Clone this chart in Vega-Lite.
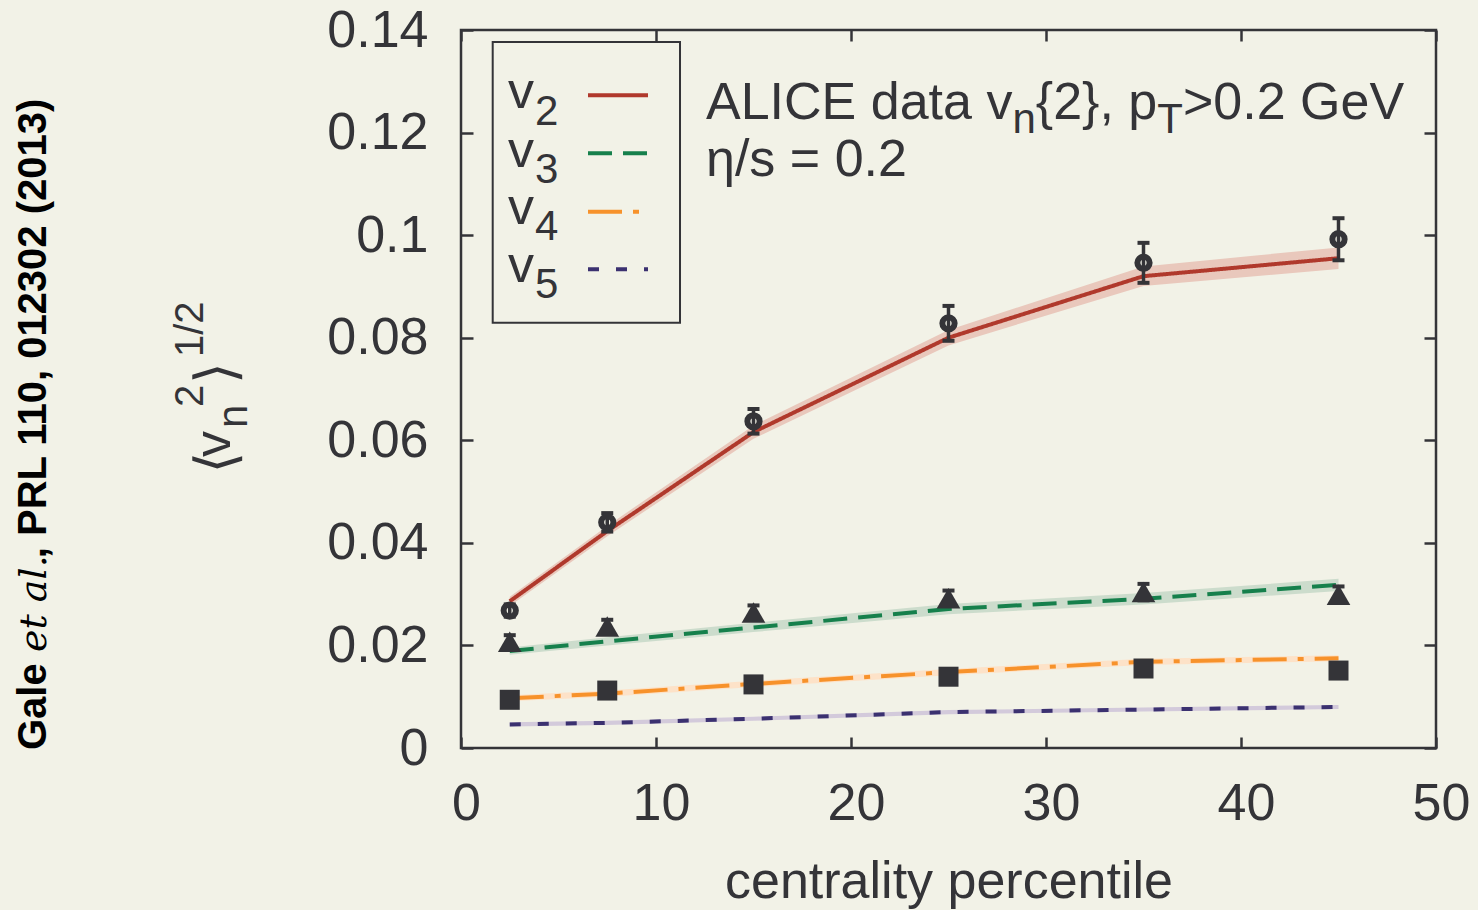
{
  "$schema": "https://vega.github.io/schema/vega-lite/v6.json",
  "width": 975,
  "height": 718,
  "autosize": {"type": "none"},
  "padding": {"left": 461, "top": 30, "right": 42, "bottom": 162},
  "background": "#f2f2e7",
  "config": {
    "view": {"stroke": "#343438", "strokeWidth": 2.5},
    "font": "Liberation Sans",
    "text": {"font": "Liberation Sans", "color": "#343438", "align": "left", "baseline": "alphabetic"}
  },
  "datasets": {
    "model": [
      {"series": "v2", "x": 2.5, "y": 0.0286, "lo": 0.0277, "hi": 0.0295},
      {"series": "v2", "x": 7.5, "y": 0.0423, "lo": 0.0413, "hi": 0.0433},
      {"series": "v2", "x": 15, "y": 0.0616, "lo": 0.0603, "hi": 0.0629},
      {"series": "v2", "x": 25, "y": 0.0800, "lo": 0.0785, "hi": 0.0815},
      {"series": "v2", "x": 35, "y": 0.0920, "lo": 0.0901, "hi": 0.0939},
      {"series": "v2", "x": 45, "y": 0.0955, "lo": 0.0934, "hi": 0.0976},
      {"series": "v3", "x": 2.5, "y": 0.0189, "lo": 0.0182, "hi": 0.0196},
      {"series": "v3", "x": 7.5, "y": 0.0208, "lo": 0.0200, "hi": 0.0216},
      {"series": "v3", "x": 15, "y": 0.0235, "lo": 0.0226, "hi": 0.0244},
      {"series": "v3", "x": 25, "y": 0.0271, "lo": 0.0261, "hi": 0.0281},
      {"series": "v3", "x": 35, "y": 0.0291, "lo": 0.0280, "hi": 0.0302},
      {"series": "v3", "x": 45, "y": 0.0318, "lo": 0.0306, "hi": 0.0330},
      {"series": "v4", "x": 2.5, "y": 0.0097, "lo": 0.0091, "hi": 0.0103},
      {"series": "v4", "x": 7.5, "y": 0.0106, "lo": 0.0100, "hi": 0.0112},
      {"series": "v4", "x": 15, "y": 0.0125, "lo": 0.0119, "hi": 0.0131},
      {"series": "v4", "x": 25, "y": 0.0148, "lo": 0.0142, "hi": 0.0154},
      {"series": "v4", "x": 35, "y": 0.0168, "lo": 0.0162, "hi": 0.0174},
      {"series": "v4", "x": 45, "y": 0.0175, "lo": 0.0169, "hi": 0.0181},
      {"series": "v5", "x": 2.5, "y": 0.0046, "lo": 0.0042, "hi": 0.0050},
      {"series": "v5", "x": 7.5, "y": 0.0049, "lo": 0.0045, "hi": 0.0053},
      {"series": "v5", "x": 15, "y": 0.0057, "lo": 0.0053, "hi": 0.0061},
      {"series": "v5", "x": 25, "y": 0.0070, "lo": 0.0066, "hi": 0.0074},
      {"series": "v5", "x": 35, "y": 0.0075, "lo": 0.0071, "hi": 0.0079},
      {"series": "v5", "x": 45, "y": 0.0080, "lo": 0.0076, "hi": 0.0084}
    ],
    "alice": [
      {"series": "v2", "x": 2.5, "y": 0.0268, "lo": 0.0256, "hi": 0.0280},
      {"series": "v2", "x": 7.5, "y": 0.0440, "lo": 0.0422, "hi": 0.0458},
      {"series": "v2", "x": 15, "y": 0.0637, "lo": 0.0613, "hi": 0.0661},
      {"series": "v2", "x": 25, "y": 0.0828, "lo": 0.0794, "hi": 0.0862},
      {"series": "v2", "x": 35, "y": 0.0946, "lo": 0.0907, "hi": 0.0985},
      {"series": "v2", "x": 45, "y": 0.0992, "lo": 0.0951, "hi": 0.1033},
      {"series": "v3", "x": 2.5, "y": 0.0207, "lo": 0.0194, "hi": 0.0220},
      {"series": "v3", "x": 7.5, "y": 0.0237, "lo": 0.0224, "hi": 0.0250},
      {"series": "v3", "x": 15, "y": 0.0264, "lo": 0.0250, "hi": 0.0278},
      {"series": "v3", "x": 25, "y": 0.0292, "lo": 0.0277, "hi": 0.0307},
      {"series": "v3", "x": 35, "y": 0.0304, "lo": 0.0288, "hi": 0.0320},
      {"series": "v3", "x": 45, "y": 0.0299, "lo": 0.0283, "hi": 0.0315},
      {"series": "v4", "x": 2.5, "y": 0.0094, "lo": 0.0083, "hi": 0.0105},
      {"series": "v4", "x": 7.5, "y": 0.0112, "lo": 0.0101, "hi": 0.0123},
      {"series": "v4", "x": 15, "y": 0.0124, "lo": 0.0113, "hi": 0.0135},
      {"series": "v4", "x": 25, "y": 0.0139, "lo": 0.0128, "hi": 0.0150},
      {"series": "v4", "x": 35, "y": 0.0155, "lo": 0.0144, "hi": 0.0166},
      {"series": "v4", "x": 45, "y": 0.0151, "lo": 0.0140, "hi": 0.0162}
    ]
  },
  "data": {"values": [{}]},
  "resolve": {"axis": {"x": "independent", "y": "independent"}},
  "layer": [
    {
      "data": {"name": "model"},
      "mark": {"type": "area", "opacity": 1},
      "encoding": {
        "x": {
          "field": "x", "type": "quantitative",
          "scale": {"domain": [0, 50], "nice": false, "zero": false},
          "axis": {
            "orient": "bottom", "values": [0, 10, 20, 30, 40, 50], "format": "d",
            "labelFont": "Liberation Sans", "labelFontSize": 52, "labelColor": "#343438",
            "labelPadding": 41, "labelFlush": false, "labelOverlap": false, "labelOffset": 5,
            "tickSize": -11, "tickWidth": 2.5, "tickColor": "#343438",
            "domain": false, "grid": false,
            "title": "centrality percentile", "titleFont": "Liberation Sans", "titleFontSize": 52,
            "titleFontWeight": "normal", "titleColor": "#343438", "titleY": 149, "titleBaseline": "alphabetic"
          }
        },
        "y": {
          "field": "lo", "type": "quantitative",
          "scale": {"domain": [0, 0.14], "nice": false, "zero": false},
          "axis": {
            "orient": "left", "values": [0, 0.02, 0.04, 0.06, 0.08, 0.1, 0.12, 0.14], "format": "~g",
            "labelFont": "Liberation Sans", "labelFontSize": 52, "labelColor": "#343438",
            "labelPadding": 45, "labelFlush": false, "labelOverlap": false, "labelBaseline": "middle",
            "tickSize": -12, "tickWidth": 2.5, "tickColor": "#343438",
            "domain": false, "grid": false, "title": null
          }
        },
        "y2": {"field": "hi"},
        "fill": {
          "field": "series", "type": "nominal",
          "scale": {"domain": ["v2", "v3", "v4", "v5"], "range": ["#e9c8bc", "#ccdccc", "#fde2c8", "#d3cadb"]},
          "legend": null
        }
      }
    },
    {
      "data": {"name": "model"},
      "mark": {"type": "line", "strokeWidth": 4},
      "encoding": {
        "x": {
          "field": "x", "type": "quantitative",
          "scale": {"domain": [0, 50], "nice": false, "zero": false},
          "axis": {
            "orient": "top", "values": [0, 10, 20, 30, 40, 50], "labels": false, "title": null,
            "tickSize": -11, "tickWidth": 2.5, "tickColor": "#343438", "domain": false, "grid": false
          }
        },
        "y": {
          "field": "y", "type": "quantitative",
          "scale": {"domain": [0, 0.14], "nice": false, "zero": false},
          "axis": {
            "orient": "right", "values": [0, 0.02, 0.04, 0.06, 0.08, 0.1, 0.12, 0.14], "labels": false, "title": null,
            "tickSize": -12, "tickWidth": 2.5, "tickColor": "#343438", "domain": false, "grid": false
          }
        },
        "color": {
          "field": "series", "type": "nominal",
          "scale": {"domain": ["v2", "v3", "v4", "v5"], "range": ["#b0392c", "#16804c", "#f7922b", "#3b3170"]},
          "legend": null
        },
        "strokeDash": {
          "field": "series", "type": "nominal",
          "scale": {"domain": ["v2", "v3", "v4", "v5"], "range": [[1, 0], [24, 11], [34, 11, 6, 11], [11, 17]]},
          "legend": null
        }
      }
    },
    {
      "mark": {"type": "rect", "fillOpacity": 0, "stroke": "#343438", "strokeWidth": 2},
      "encoding": {
        "x": {"datum": 1.626, "type": "quantitative", "axis": null},
        "x2": {"datum": 11.231},
        "y": {"datum": 0.08293, "type": "quantitative", "axis": null},
        "y2": {"datum": 0.13766}
      }
    },
    {
      "mark": {"type": "rule", "strokeWidth": 4},
      "encoding": {
        "x": {"datum": 6.513, "type": "quantitative", "axis": null}, "x2": {"datum": 9.59},
        "y": {"datum": 0.12727, "type": "quantitative", "axis": null},
        "color": {"datum": "v2", "type": "nominal", "legend": null},
        "strokeDash": {"datum": "v2", "type": "nominal", "legend": null}
      }
    },
    {
      "mark": {"type": "rule", "strokeWidth": 4},
      "encoding": {
        "x": {"datum": 6.513, "type": "quantitative", "axis": null}, "x2": {"datum": 9.59},
        "y": {"datum": 0.11596, "type": "quantitative", "axis": null},
        "color": {"datum": "v3", "type": "nominal", "legend": null},
        "strokeDash": {"datum": "v3", "type": "nominal", "legend": null}
      }
    },
    {
      "mark": {"type": "rule", "strokeWidth": 4},
      "encoding": {
        "x": {"datum": 6.513, "type": "quantitative", "axis": null}, "x2": {"datum": 9.59},
        "y": {"datum": 0.10457, "type": "quantitative", "axis": null},
        "color": {"datum": "v4", "type": "nominal", "legend": null},
        "strokeDash": {"datum": "v4", "type": "nominal", "legend": null}
      }
    },
    {
      "mark": {"type": "rule", "strokeWidth": 4},
      "encoding": {
        "x": {"datum": 6.513, "type": "quantitative", "axis": null}, "x2": {"datum": 9.59},
        "y": {"datum": 0.09334, "type": "quantitative", "axis": null},
        "color": {"datum": "v5", "type": "nominal", "legend": null},
        "strokeDash": {"datum": "v5", "type": "nominal", "legend": null}
      }
    },
    {"mark": {"type": "text", "text": "v", "fontSize": 52}, "encoding": {"x": {"datum": 2.41, "type": "quantitative", "axis": null}, "y": {"datum": 0.12479, "type": "quantitative", "axis": null}}},
    {"mark": {"type": "text", "text": "v", "fontSize": 52}, "encoding": {"x": {"datum": 2.41, "type": "quantitative", "axis": null}, "y": {"datum": 0.11334, "type": "quantitative", "axis": null}}},
    {"mark": {"type": "text", "text": "v", "fontSize": 52}, "encoding": {"x": {"datum": 2.41, "type": "quantitative", "axis": null}, "y": {"datum": 0.10217, "type": "quantitative", "axis": null}}},
    {"mark": {"type": "text", "text": "v", "fontSize": 52}, "encoding": {"x": {"datum": 2.41, "type": "quantitative", "axis": null}, "y": {"datum": 0.09092, "type": "quantitative", "axis": null}}},
    {"mark": {"type": "text", "text": "2", "fontSize": 42}, "encoding": {"x": {"datum": 3.795, "type": "quantitative", "axis": null}, "y": {"datum": 0.12148, "type": "quantitative", "axis": null}}},
    {"mark": {"type": "text", "text": "3", "fontSize": 42}, "encoding": {"x": {"datum": 3.795, "type": "quantitative", "axis": null}, "y": {"datum": 0.11022, "type": "quantitative", "axis": null}}},
    {"mark": {"type": "text", "text": "4", "fontSize": 42}, "encoding": {"x": {"datum": 3.795, "type": "quantitative", "axis": null}, "y": {"datum": 0.09905, "type": "quantitative", "axis": null}}},
    {"mark": {"type": "text", "text": "5", "fontSize": 42}, "encoding": {"x": {"datum": 3.795, "type": "quantitative", "axis": null}, "y": {"datum": 0.08774, "type": "quantitative", "axis": null}}},
    {
      "data": {"name": "alice"},
      "mark": {"type": "rule", "strokeWidth": 3.5, "color": "#343438"},
      "encoding": {
        "x": {"field": "x", "type": "quantitative", "axis": null},
        "y": {"field": "lo", "type": "quantitative", "axis": null},
        "y2": {"field": "hi"}
      }
    },
    {
      "data": {"name": "alice"},
      "mark": {"type": "tick", "orient": "horizontal", "size": 12, "thickness": 4, "color": "#343438", "opacity": 1},
      "encoding": {
        "x": {"field": "x", "type": "quantitative", "axis": null},
        "y": {"field": "lo", "type": "quantitative", "axis": null}
      }
    },
    {
      "data": {"name": "alice"},
      "mark": {"type": "tick", "orient": "horizontal", "size": 12, "thickness": 4, "color": "#343438", "opacity": 1},
      "encoding": {
        "x": {"field": "x", "type": "quantitative", "axis": null},
        "y": {"field": "hi", "type": "quantitative", "axis": null}
      }
    },
    {
      "data": {"name": "alice"},
      "transform": [{"filter": "datum.series === 'v2'"}],
      "mark": {"type": "point", "shape": "circle", "filled": false, "size": 150, "strokeWidth": 6, "color": "#343438", "opacity": 1},
      "encoding": {
        "x": {"field": "x", "type": "quantitative", "axis": null},
        "y": {"field": "y", "type": "quantitative", "axis": null}
      }
    },
    {
      "data": {"name": "alice"},
      "transform": [{"filter": "datum.series === 'v3'"}],
      "mark": {"type": "point", "shape": "triangle-up", "filled": true, "size": 560, "color": "#343438", "opacity": 1},
      "encoding": {
        "x": {"field": "x", "type": "quantitative", "axis": null},
        "y": {"field": "y", "type": "quantitative", "axis": null}
      }
    },
    {
      "data": {"name": "alice"},
      "transform": [{"filter": "datum.series === 'v4'"}],
      "mark": {"type": "point", "shape": "square", "filled": true, "size": 400, "color": "#343438", "opacity": 1},
      "encoding": {
        "x": {"field": "x", "type": "quantitative", "axis": null},
        "y": {"field": "y", "type": "quantitative", "axis": null}
      }
    },
    {"mark": {"type": "text", "text": "ALICE data v", "fontSize": 52}, "encoding": {"x": {"datum": 12.564, "type": "quantitative", "axis": null}, "y": {"datum": 0.12265, "type": "quantitative", "axis": null}}},
    {"mark": {"type": "text", "text": "n", "fontSize": 42}, "encoding": {"x": {"datum": 28.277, "type": "quantitative", "axis": null}, "y": {"datum": 0.11992, "type": "quantitative", "axis": null}}},
    {"mark": {"type": "text", "text": "{2}, p", "fontSize": 52}, "encoding": {"x": {"datum": 29.477, "type": "quantitative", "axis": null}, "y": {"datum": 0.12265, "type": "quantitative", "axis": null}}},
    {"mark": {"type": "text", "text": "T", "fontSize": 42}, "encoding": {"x": {"datum": 35.708, "type": "quantitative", "axis": null}, "y": {"datum": 0.11992, "type": "quantitative", "axis": null}}},
    {"mark": {"type": "text", "text": ">0.2 GeV", "fontSize": 52}, "encoding": {"x": {"datum": 37.026, "type": "quantitative", "axis": null}, "y": {"datum": 0.12265, "type": "quantitative", "axis": null}}},
    {"mark": {"type": "text", "text": "η/s = 0.2", "fontSize": 52}, "encoding": {"x": {"datum": 12.564, "type": "quantitative", "axis": null}, "y": {"datum": 0.11153, "type": "quantitative", "axis": null}}},
    {"mark": {"type": "text", "text": "⟨", "font": "DejaVu Sans", "fontSize": 56, "angle": 270}, "encoding": {"x": {"datum": -11.6, "type": "quantitative", "axis": null}, "y": {"datum": 0.0535, "type": "quantitative", "axis": null}}},
    {"mark": {"type": "text", "text": "v", "fontSize": 52, "angle": 270}, "encoding": {"x": {"datum": -11.846, "type": "quantitative", "axis": null}, "y": {"datum": 0.05674, "type": "quantitative", "axis": null}}},
    {"mark": {"type": "text", "text": "n", "fontSize": 42, "angle": 270}, "encoding": {"x": {"datum": -10.974, "type": "quantitative", "axis": null}, "y": {"datum": 0.0624, "type": "quantitative", "axis": null}}},
    {"mark": {"type": "text", "text": "2", "fontSize": 40, "angle": 270}, "encoding": {"x": {"datum": -13.231, "type": "quantitative", "axis": null}, "y": {"datum": 0.06649, "type": "quantitative", "axis": null}}},
    {"mark": {"type": "text", "text": "⟩", "font": "DejaVu Sans", "fontSize": 56, "angle": 270}, "encoding": {"x": {"datum": -11.6, "type": "quantitative", "axis": null}, "y": {"datum": 0.07097, "type": "quantitative", "axis": null}}},
    {"mark": {"type": "text", "text": "1/2", "fontSize": 40, "angle": 270}, "encoding": {"x": {"datum": -13.231, "type": "quantitative", "axis": null}, "y": {"datum": 0.07624, "type": "quantitative", "axis": null}}},
    {"mark": {"type": "text", "text": "Gale", "fontSize": 40, "fontWeight": "bold", "angle": 270, "color": "#000000"}, "encoding": {"x": {"datum": -21.282, "type": "quantitative", "axis": null}, "y": {"datum": -0.00039, "type": "quantitative", "axis": null}}},
    {"mark": {"type": "text", "text": "et al.", "font": "DejaVu Serif", "fontStyle": "italic", "fontSize": 38, "angle": 270, "color": "#000000"}, "encoding": {"x": {"datum": -21.282, "type": "quantitative", "axis": null}, "y": {"datum": 0.01872, "type": "quantitative", "axis": null}}},
    {"mark": {"type": "text", "text": ", PRL 110, 012302 (2013)", "fontSize": 40, "fontWeight": "bold", "angle": 270, "color": "#000000"}, "encoding": {"x": {"datum": -21.282, "type": "quantitative", "axis": null}, "y": {"datum": 0.03700, "type": "quantitative", "axis": null}}}
  ]
}
